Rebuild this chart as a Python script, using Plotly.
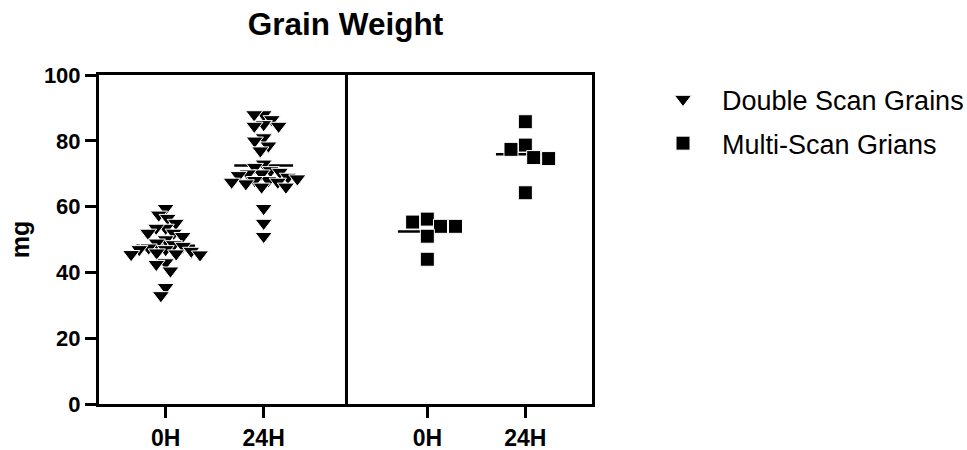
import numpy as np
import plotly.graph_objects as go

# Grain weight (mg) per time point
timepoints = ["0H", "24H"]
double_scan_0h = [59.5, 57.5, 56.5, 55, 53.5, 53.5, 52, 52, 51, 50, 49, 48.5, 48,
                  47.5, 47, 47, 46.5, 46, 45.4, 45.5, 45.7, 43, 42.5, 40.5, 35.5, 33]
double_scan_24h = [88, 88, 86.5, 85, 84.5, 84.5, 81, 80, 78.5, 77, 73, 72, 71, 70.5,
                   70, 70, 69.5, 69, 68.5, 68, 68, 67.5, 67, 67.5, 66, 66, 59.5, 55, 51]
multi_scan_0h = [56.2, 55.3, 54.0, 54.0, 51.0, 44.0]
multi_scan_24h = [85.8, 78.7, 77.4, 74.9, 74.6, 64.2]

series_names = ["Double Scan Grains", "Multi-Scan Grians"]

# category centres along the shared x axis (two panels)
group_pos = [[0.0, 1.0], [2.67, 3.67]]
divider_x = 1.845
x_range = [-0.68, 4.35]
PX_X = 98.0      # pixels per x unit
PX_Y = 3.285     # pixels per mg


def swarm_offsets(values, diameter):
    """Beeswarm layout: place each point as close to the centre as possible
    without overlapping points already placed (distances in pixels)."""
    vals = np.asarray(values, dtype=float)
    order = np.argsort(-vals, kind="stable")
    placed = []  # (x_px, y_px)
    offs = np.zeros(len(vals))
    for i in order:
        y = vals[i] * PX_Y
        blocked = []
        for (px, py) in placed:
            dy = abs(py - y)
            if dy < diameter:
                half = np.sqrt(diameter ** 2 - dy ** 2)
                blocked.append((px - half, px + half))
        candidates = [0.0] + [b for iv in blocked for b in iv]
        best = None
        for c in sorted(candidates, key=lambda v: (abs(v), v)):
            if all(not (lo + 1e-9 < c < hi - 1e-9) for lo, hi in blocked):
                best = c
                break
        offs[i] = best
        placed.append((best, y))
    return offs / PX_X


fig = go.Figure()

datasets = [
    (series_names[0], "triangle-down", 15, 9.5, [double_scan_0h, double_scan_24h], group_pos[0]),
    (series_names[1], "square", 14, 15.0, [multi_scan_0h, multi_scan_24h], group_pos[1]),
]

# mean lines first so the markers sit on top of them
for name, sym, size, diam, groups, positions in datasets:
    for vals, xc in zip(groups, positions):
        m = float(np.mean(vals))
        fig.add_trace(go.Scatter(
            x=[xc - 0.3, xc + 0.3], y=[m, m], mode="lines",
            line=dict(color="black", width=2.5), showlegend=False, hoverinfo="skip",
        ))

for k, (name, sym, size, diam, groups, positions) in enumerate(datasets):
    xs, ys = [], []
    for vals, xc in zip(groups, positions):
        offs = swarm_offsets(vals, diam)
        xs.extend(list(xc + offs))
        ys.extend(vals)
    fig.add_trace(go.Scatter(
        x=xs, y=ys, mode="markers", name=name, legendgroup=f"g{k}",
        marker=dict(symbol=sym, size=size, color="black",
                    line=dict(color="white", width=1)),
    ))

FONT = "Liberation Sans, Arial, sans-serif"

fig.add_shape(type="line", xref="x", yref="paper", x0=divider_x, x1=divider_x,
              y0=0, y1=1, line=dict(color="black", width=3))

fig.update_layout(
    width=967, height=450,
    margin=dict(l=99, r=375, t=75, b=46, autoexpand=False),
    paper_bgcolor="white", plot_bgcolor="white",
    font=dict(family=FONT, color="black"),
    title=dict(text="<b>Grain Weight</b>", x=0.5, xref="paper", xanchor="center",
               y=(450 - 24) / 450, yref="container", yanchor="middle",
               font=dict(size=31.5, family=FONT, color="black")),
    showlegend=True,
    legend=dict(x=1.1055, xanchor="left", y=1.0, yanchor="top",
                traceorder="grouped", tracegroupgap=6, itemwidth=68,
                font=dict(size=27, family=FONT, color="black"),
                bgcolor="rgba(0,0,0,0)"),
    xaxis=dict(range=x_range, tickmode="array", automargin=False,
               tickvals=group_pos[0] + group_pos[1],
               ticktext=timepoints + timepoints,
               showgrid=False, zeroline=False,
               showline=True, linecolor="black", linewidth=3, mirror=True,
               ticks="outside", ticklen=11, tickwidth=3, tickcolor="black",
               tickfont=dict(size=23, family=FONT, weight="bold", color="black")),
    yaxis=dict(range=[0, 100], tickmode="array", tickvals=[0, 20, 40, 60, 80, 100],
               automargin=False,
               showgrid=False, zeroline=False,
               showline=True, linecolor="black", linewidth=3, mirror=True,
               ticks="outside", ticklen=11, tickwidth=3, tickcolor="black",
               tickfont=dict(size=22, family=FONT, weight="bold", color="black"),
               title=dict(text="<b>mg</b>", standoff=8,
                          font=dict(size=25, family=FONT, color="black"))),
)

fig.write_html("out.html")
